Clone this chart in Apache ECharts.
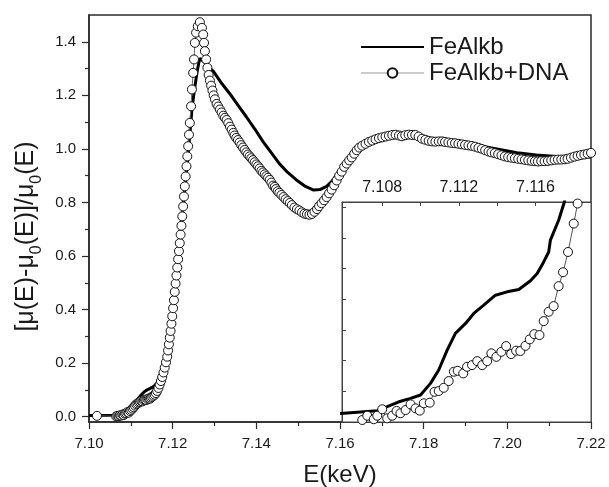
<!DOCTYPE html>
<html><head><meta charset="utf-8">
<script src="https://cdn.jsdelivr.net/npm/echarts@6/dist/echarts.min.js"></script>
<style>html,body{margin:0;padding:0;background:#fff}#c{width:609px;height:487px}</style>
</head><body><div id="c"></div>
<script>
const FONT = "'Liberation Sans', Arial, Helvetica, sans-serif";
const TXT = '#1a1a1a';

// ---- main plot: FeAlkb (solid line) ----
const feX = [7.1000,7.1040,7.1060,7.1075,7.1085,7.1094,7.1099,7.1104,7.1109,7.1114,7.1119,7.1124,7.1129,7.1134,7.1139,7.1144,7.1148,7.1153,7.1158,7.1163,7.1168,7.1173,7.1178,7.1183,7.1188,7.1193,7.1198,7.1203,7.1208,7.1213,7.1218,7.1223,7.1228,7.1233,7.1238,7.1243,7.1246,7.1252,7.1258,7.1262,7.1265,7.1269,7.1277,7.1287,7.1297,7.1317,7.1337,7.1356,7.1376,7.1396,7.1416,7.1436,7.1455,7.1475,7.1495,7.1515,7.1537,7.1552,7.1568,7.1580,7.1592,7.1608,7.1624,7.1647,7.1668,7.1688,7.1708,7.1728,7.1752,7.1777,7.1802,7.1832,7.1861,7.1891,7.1927,7.1975,7.2023,7.2069,7.2118,7.2163,7.2200];
const feY = [0.004,0.004,0.005,0.007,0.011,0.016,0.020,0.029,0.043,0.058,0.070,0.080,0.088,0.095,0.100,0.104,0.107,0.111,0.118,0.127,0.138,0.152,0.172,0.198,0.235,0.29,0.36,0.44,0.52,0.60,0.68,0.76,0.83,0.91,1.00,1.09,1.147,1.22,1.284,1.318,1.338,1.340,1.322,1.303,1.290,1.245,1.205,1.163,1.120,1.075,1.027,0.985,0.945,0.912,0.885,0.862,0.846,0.848,0.860,0.878,0.904,0.935,0.966,0.997,1.015,1.028,1.040,1.047,1.050,1.048,1.038,1.030,1.025,1.020,1.014,1.000,0.986,0.977,0.972,0.970,0.970];

// ---- main plot: FeAlkb+DNA (open circles) ----
const dnaX = [7.1019,7.1065,7.1068,7.1071,7.1074,7.1077,7.1080,7.1083,7.1086,7.1089,7.1092,7.1095,7.1098,7.1101,7.1104,7.1107,7.1110,7.1113,7.1116,7.1119,7.1122,7.1125,7.1128,7.1131,7.1134,7.1137,7.1140,7.1143,7.1146,7.1148,7.1151,7.1154,7.1157,7.1160,7.1163,7.1166,7.1169,7.1172,7.1175,7.1178,7.1181,7.1184,7.1187,7.1189,7.1191,7.1193,7.1195,7.1197,7.1199,7.1201,7.1203,7.1205,7.1207,7.1209,7.1211,7.1213,7.1215,7.1217,7.1219,7.1221,7.1223,7.1225,7.1227,7.1229,7.1231,7.1233,7.1235,7.1237,7.1239,7.1241,7.1244,7.1246,7.1249,7.1251,7.1253,7.1256,7.1260,7.1265,7.1270,7.1273,7.1275,7.1277,7.1280,7.1283,7.1286,7.1289,7.1292,7.1295,7.1298,7.1301,7.1305,7.1309,7.1313,7.1317,7.1321,7.1325,7.1329,7.1333,7.1337,7.1341,7.1345,7.1348,7.1352,7.1356,7.1360,7.1364,7.1368,7.1372,7.1376,7.1380,7.1384,7.1388,7.1392,7.1396,7.1400,7.1404,7.1408,7.1412,7.1416,7.1420,7.1424,7.1428,7.1432,7.1436,7.1440,7.1444,7.1447,7.1451,7.1455,7.1460,7.1465,7.1470,7.1475,7.1480,7.1485,7.1491,7.1497,7.1503,7.1509,7.1515,7.1521,7.1527,7.1533,7.1539,7.1545,7.1550,7.1556,7.1562,7.1568,7.1574,7.1580,7.1586,7.1592,7.1598,7.1604,7.1610,7.1616,7.1622,7.1628,7.1634,7.1640,7.1646,7.1653,7.1661,7.1669,7.1677,7.1685,7.1693,7.1701,7.1709,7.1717,7.1725,7.1733,7.1741,7.1748,7.1756,7.1764,7.1772,7.1780,7.1788,7.1796,7.1804,7.1812,7.1820,7.1828,7.1836,7.1844,7.1851,7.1859,7.1867,7.1875,7.1883,7.1891,7.1899,7.1907,7.1915,7.1923,7.1931,7.1939,7.1947,7.1955,7.1962,7.1970,7.1978,7.1986,7.1994,7.2002,7.2010,7.2018,7.2026,7.2034,7.2042,7.2050,7.2058,7.2066,7.2073,7.2081,7.2089,7.2097,7.2105,7.2113,7.2121,7.2129,7.2137,7.2144,7.2152,7.2160,7.2168,7.2176,7.2184,7.2192,7.2200];
const dnaY = [0.003,0.001,0.003,0.002,0.005,0.004,0.008,0.006,0.011,0.013,0.017,0.015,0.021,0.025,0.030,0.035,0.041,0.046,0.049,0.053,0.055,0.058,0.057,0.061,0.063,0.062,0.066,0.068,0.067,0.071,0.074,0.078,0.082,0.088,0.096,0.107,0.120,0.133,0.148,0.165,0.183,0.203,0.224,0.247,0.270,0.295,0.320,0.347,0.375,0.405,0.435,0.466,0.497,0.527,0.557,0.588,0.618,0.648,0.680,0.713,0.748,0.785,0.822,0.860,0.897,0.935,0.972,1.010,1.053,1.097,1.159,1.222,1.284,1.334,1.396,1.434,1.458,1.473,1.452,1.427,1.396,1.365,1.334,1.303,1.276,1.255,1.236,1.218,1.200,1.185,1.168,1.158,1.147,1.136,1.124,1.116,1.108,1.096,1.083,1.072,1.060,1.050,1.041,1.033,1.024,1.014,1.005,0.996,0.987,0.979,0.972,0.965,0.958,0.950,0.942,0.935,0.927,0.918,0.912,0.905,0.898,0.892,0.884,0.874,0.863,0.858,0.850,0.842,0.836,0.828,0.820,0.812,0.805,0.798,0.790,0.781,0.775,0.770,0.763,0.758,0.756,0.754,0.757,0.765,0.775,0.786,0.797,0.808,0.820,0.834,0.848,0.864,0.882,0.900,0.915,0.933,0.945,0.957,0.968,0.982,0.995,1.005,1.012,1.019,1.026,1.031,1.036,1.040,1.043,1.046,1.049,1.052,1.053,1.050,1.047,1.051,1.053,1.052,1.052,1.046,1.038,1.034,1.030,1.028,1.027,1.028,1.028,1.026,1.024,1.022,1.021,1.019,1.017,1.015,1.013,1.011,1.008,1.004,1.000,0.995,0.990,0.987,0.984,0.980,0.976,0.972,0.969,0.967,0.965,0.963,0.961,0.959,0.957,0.955,0.954,0.953,0.954,0.954,0.955,0.957,0.959,0.960,0.960,0.961,0.963,0.967,0.971,0.974,0.977,0.979,0.982,0.985];

// ---- inset (pre-edge) ----
const inFeX = [7.10580,7.10600,7.10774,7.10826,7.10887,7.10948,7.11000,7.11052,7.11095,7.11139,7.11182,7.11235,7.11278,7.11330,7.11391,7.11452,7.11513,7.11574,7.11609,7.11643,7.11669,7.11678,7.11721,7.11751,7.11770];
const inFeY = [0.0055,0.0057,0.0074,0.0100,0.0132,0.0154,0.0176,0.0252,0.0339,0.0469,0.0578,0.0643,0.0708,0.0762,0.0827,0.0849,0.0864,0.0921,0.0969,0.1044,0.1109,0.1186,0.1316,0.1435,0.1550];
const inDnaX = [7.10696,7.10722,7.10756,7.10774,7.10800,7.10826,7.10852,7.10875,7.10895,7.10922,7.10948,7.10974,7.10996,7.11017,7.11048,7.11073,7.11095,7.11121,7.11147,7.11174,7.11194,7.11223,7.11243,7.11269,7.11296,7.11322,7.11348,7.11370,7.11396,7.11422,7.11447,7.11473,7.11499,7.11521,7.11548,7.11570,7.11594,7.11621,7.11643,7.11669,7.11695,7.11721,7.11744,7.11770,7.11800,7.11820,7.11840];
const inDnaY = [0.0013,0.0041,0.0018,0.0041,0.0083,0.0024,0.0041,0.0072,0.0057,0.0078,0.0115,0.0089,0.0074,0.0122,0.0126,0.0197,0.0202,0.0223,0.0267,0.0328,0.0334,0.0317,0.0360,0.0371,0.0397,0.0371,0.0397,0.0448,0.0425,0.0458,0.0495,0.0443,0.0465,0.0463,0.0497,0.0539,0.0573,0.0567,0.0658,0.0719,0.0756,0.0886,0.0977,0.1109,0.1294,0.1425,0.1600];

// ---- tick values ----
const xMajor = [7.10,7.12,7.14,7.16,7.18,7.20,7.22];
const xMinor = [7.11,7.13,7.15,7.17,7.19,7.21];
const yMajor = [0.0,0.2,0.4,0.6,0.8,1.0,1.2,1.4];
const yMinor = [0.1,0.3,0.5,0.7,0.9,1.1,1.3];
const inXTicks = [7.108,7.110,7.112,7.114,7.116,7.118];
const inXLabels = [7.108,7.112,7.116];
const inYTicks = [0.02,0.04,0.06,0.08,0.10,0.12,0.14];

const zip = (xs, ys) => xs.map((x, i) => [x, ys[i]]);
const AX = '#2a2a2a';
const MAIN = {left: 89, top: 15, right: 18, bottom: 65, outerBoundsMode: 'none', containLabel: false};

const chart = echarts.init(document.getElementById('c'), null, {renderer: 'canvas'});
chart.setOption({
  animation: false,
  backgroundColor: '#fff',
  textStyle: {fontFamily: FONT},
  grid: [
    Object.assign({show: true, borderColor: AX, borderWidth: 1.5, backgroundColor: 'transparent'}, MAIN),
    {left: 342, top: 202, right: 18, bottom: 65, outerBoundsMode: 'none', containLabel: false,
     show: true, backgroundColor: '#fff', borderColor: '#444', borderWidth: 1, zlevel: 1},
    Object.assign({show: false}, MAIN)
  ],
  legend: {
    orient: 'vertical', left: 355, top: 30, itemWidth: 63, itemHeight: 12, itemGap: 2,
    selectedMode: false,
    textStyle: {fontSize: 24, color: TXT, fontFamily: FONT},
    data: [
      {name: 'FeAlkb'},
      {name: 'FeAlkb+DNA', lineStyle: {color: '#999', width: 1}}
    ]
  },
  xAxis: [
    {type: 'value', gridIndex: 0, min: 7.10, max: 7.22,
     axisLine: {show: true, onZero: false, lineStyle: {color: AX, width: 1.5}},
     axisTick: {show: true, inside: false, length: 7, customValues: xMajor, lineStyle: {color: AX, width: 1.2}},
     axisLabel: {show: true, customValues: xMajor, margin: 14, fontSize: 15, color: TXT, fontFamily: FONT, formatter: v => v.toFixed(2)},
     splitLine: {show: false},
     name: 'E(keV)', nameLocation: 'middle', nameGap: 41,
     nameTextStyle: {fontSize: 24, color: TXT, fontFamily: FONT}},
    {type: 'value', gridIndex: 1, position: 'top', min: 7.1059, max: 7.1189, zlevel: 1,
     axisLine: {show: true, onZero: false, lineStyle: {color: '#444', width: 1}},
     axisTick: {show: true, inside: true, length: 4, customValues: inXTicks, lineStyle: {color: '#444', width: 1}},
     axisLabel: {show: true, customValues: inXLabels, margin: 6, fontSize: 16, color: TXT, fontFamily: FONT, formatter: v => v.toFixed(3)},
     splitLine: {show: false}},
    {type: 'value', gridIndex: 2, min: 7.10, max: 7.22,
     axisLine: {show: false, onZero: false},
     axisTick: {show: true, inside: false, length: 4, customValues: xMinor, lineStyle: {color: AX, width: 1.2}},
     axisLabel: {show: false}, splitLine: {show: false}}
  ],
  yAxis: [
    {type: 'value', gridIndex: 0, min: -0.02, max: 1.5,
     axisLine: {show: true, onZero: false, lineStyle: {color: AX, width: 1.5}},
     axisTick: {show: true, inside: false, length: 7, customValues: yMajor, lineStyle: {color: AX, width: 1.2}},
     axisLabel: {show: true, customValues: yMajor, margin: 13, fontSize: 15, color: TXT, fontFamily: FONT, formatter: v => v.toFixed(1)},
     splitLine: {show: false},
     name: '{a|[μ(E)-μ}{s|0}{a|(E)]/μ}{s|0}{a|(E)}',
     nameLocation: 'middle', nameRotate: 90, nameGap: 44,
     nameTextStyle: {
       color: TXT, fontFamily: FONT, fontSize: 25, padding: [0, 36, 0, 0],
       rich: {
         a: {fontSize: 25, lineHeight: 25, color: TXT, fontFamily: FONT, padding: [0, 0, 6, 0], verticalAlign: 'bottom'},
         s: {fontSize: 16, lineHeight: 16, color: TXT, fontFamily: FONT, verticalAlign: 'bottom'}
       }
     }},
    {type: 'value', gridIndex: 1, min: 0, max: 0.1435, zlevel: 1,
     axisLine: {show: true, onZero: false, lineStyle: {color: '#444', width: 1}},
     axisTick: {show: true, inside: true, length: 4, customValues: inYTicks, lineStyle: {color: '#444', width: 1}},
     axisLabel: {show: false}, splitLine: {show: false}},
    {type: 'value', gridIndex: 2, min: -0.02, max: 1.5,
     axisLine: {show: false, onZero: false},
     axisTick: {show: true, inside: false, length: 4, customValues: yMinor, lineStyle: {color: AX, width: 1.2}},
     axisLabel: {show: false}, splitLine: {show: false}}
  ],
  series: [
    {name: 'FeAlkb', type: 'line', xAxisIndex: 0, yAxisIndex: 0, data: zip(feX, feY),
     symbol: 'none', showSymbol: false, lineStyle: {color: '#000', width: 3},
     itemStyle: {color: 'rgba(0,0,0,0)', borderWidth: 0}, z: 2},
    {name: 'FeAlkb+DNA', type: 'line', xAxisIndex: 0, yAxisIndex: 0, data: zip(dnaX, dnaY),
     symbol: 'circle', symbolSize: 9, showAllSymbol: true,
     itemStyle: {color: '#fff', borderColor: '#111', borderWidth: 1},
     lineStyle: {color: '#666', width: 1}, z: 3},
    {name: 'FeAlkb', type: 'line', xAxisIndex: 1, yAxisIndex: 1, data: zip(inFeX, inFeY), zlevel: 1,
     symbol: 'none', showSymbol: false, lineStyle: {color: '#000', width: 3},
     itemStyle: {color: 'rgba(0,0,0,0)', borderWidth: 0}, z: 2},
    {name: 'FeAlkb+DNA', type: 'line', xAxisIndex: 1, yAxisIndex: 1, data: zip(inDnaX, inDnaY), zlevel: 1,
     symbol: 'circle', symbolSize: 9, showAllSymbol: true,
     itemStyle: {color: '#fff', borderColor: '#111', borderWidth: 1},
     lineStyle: {color: '#555', width: 1}, z: 3}
  ]
});
</script></body></html>
